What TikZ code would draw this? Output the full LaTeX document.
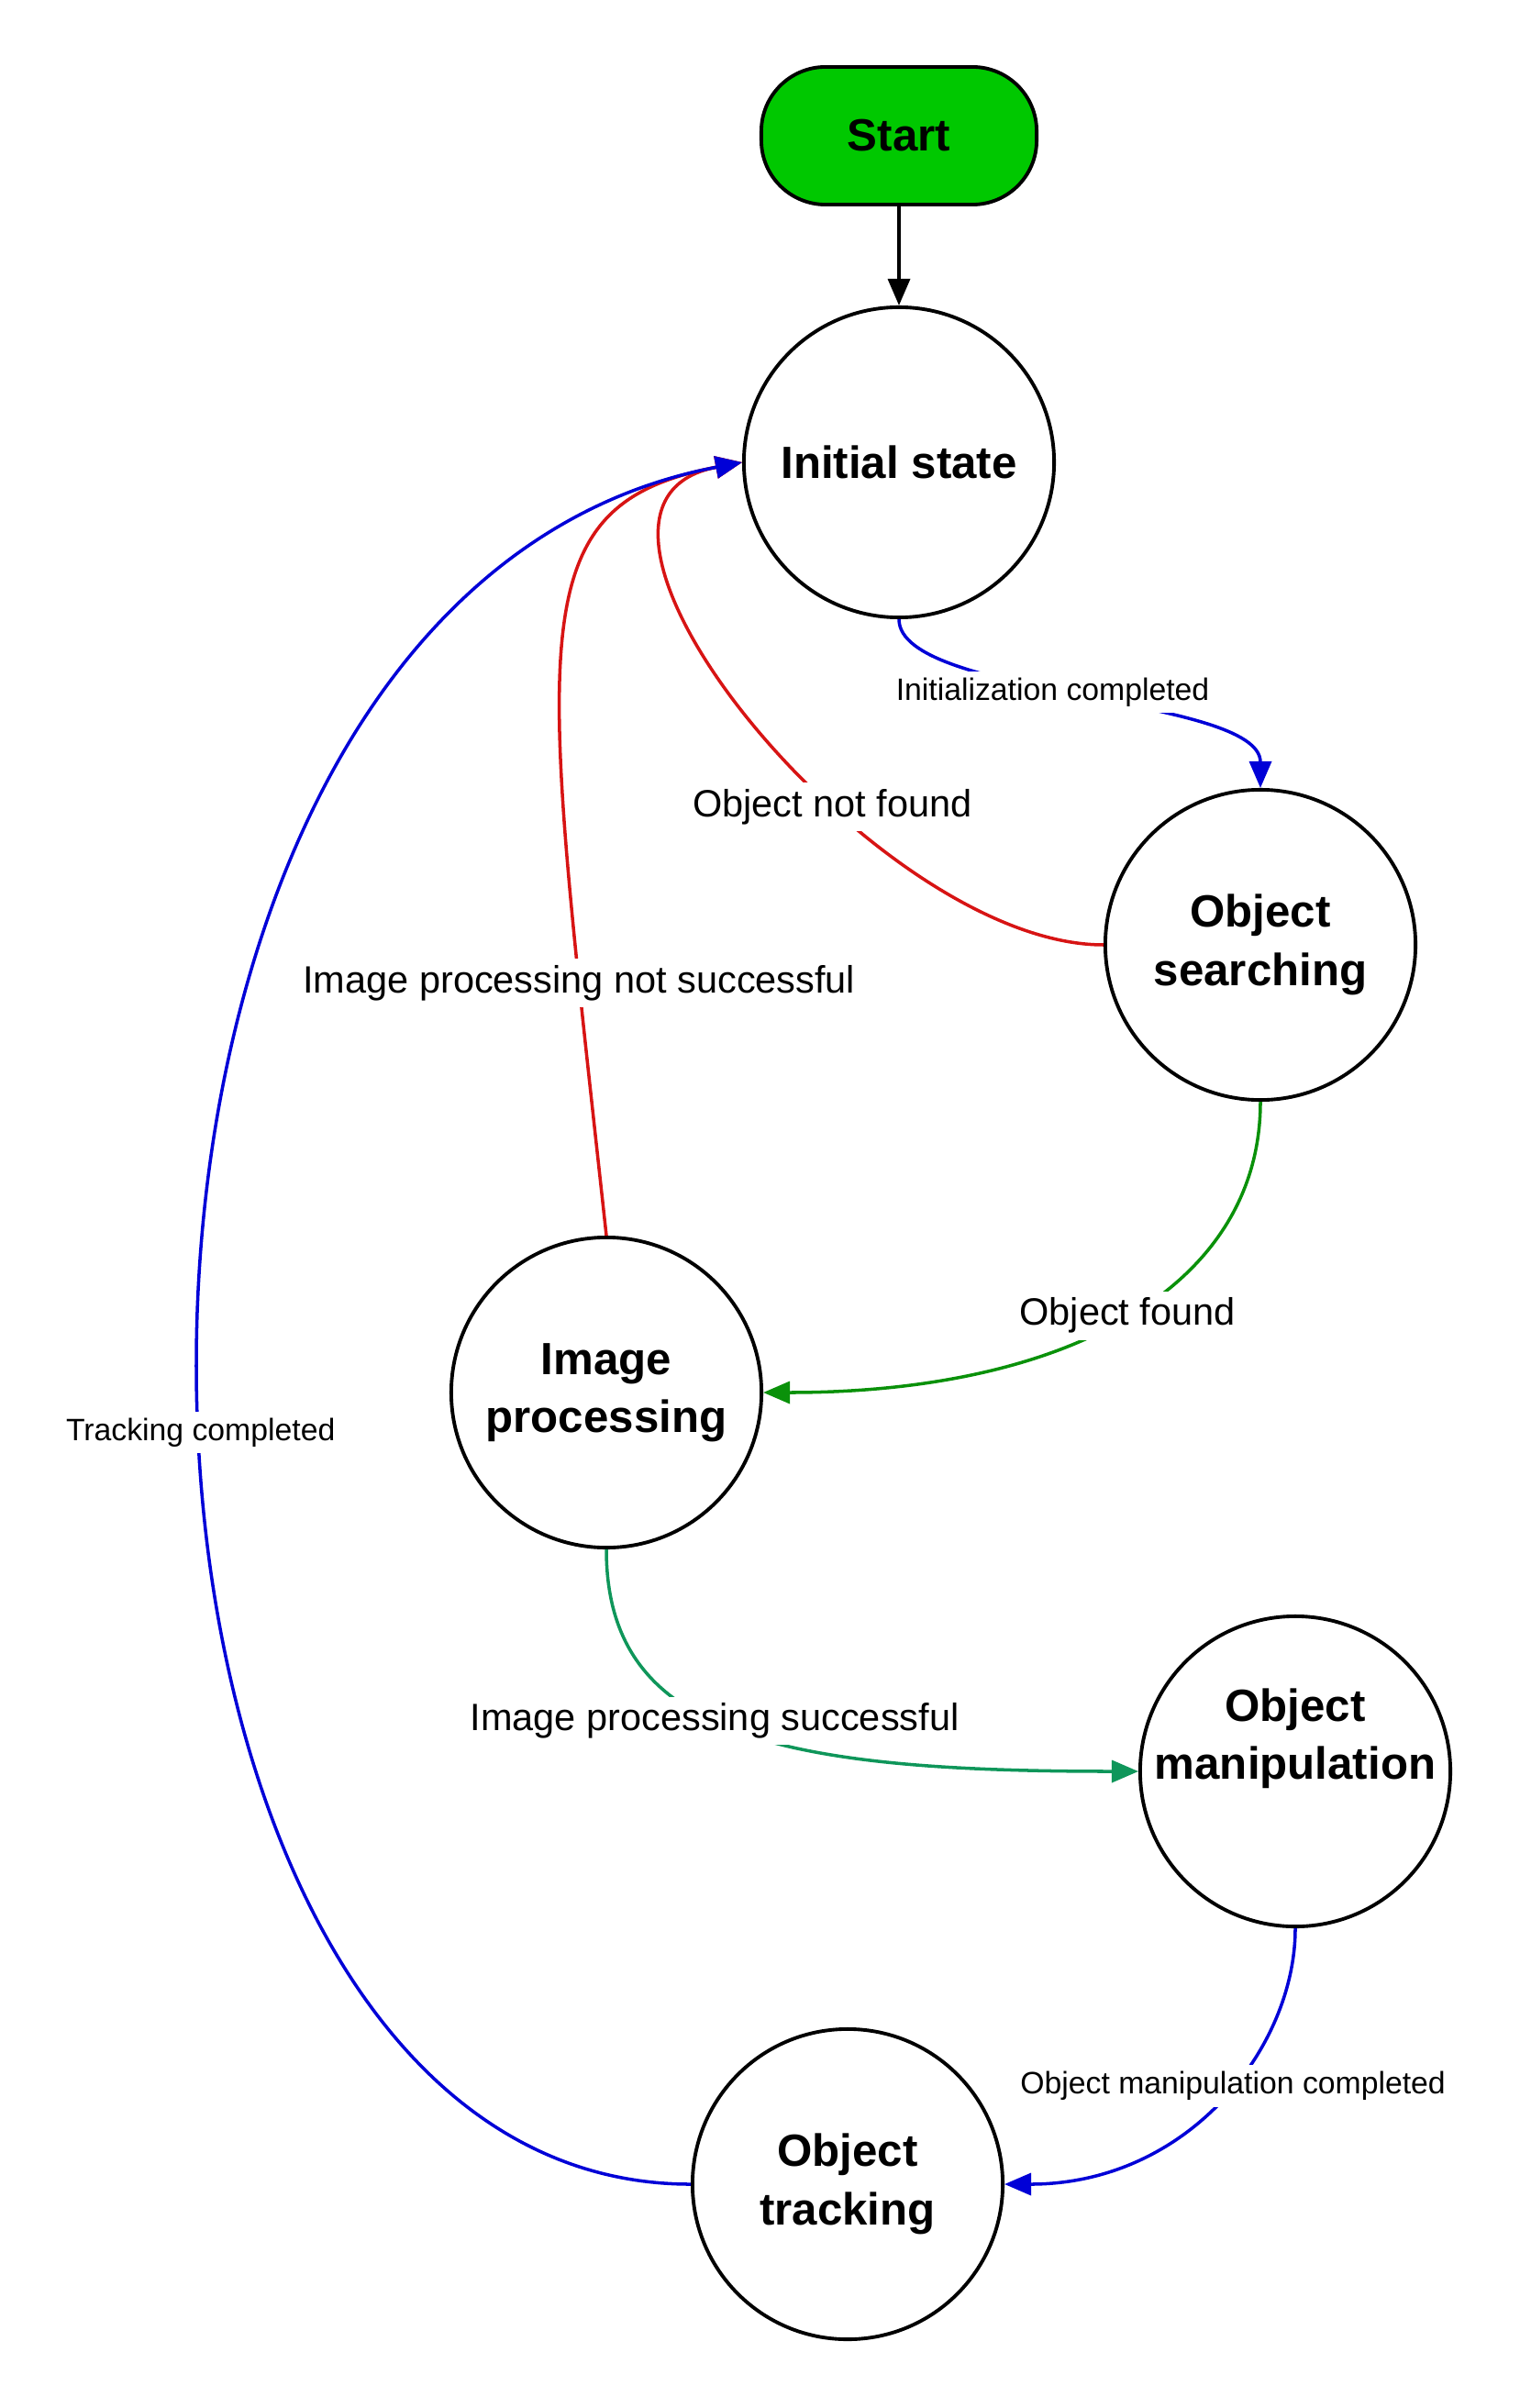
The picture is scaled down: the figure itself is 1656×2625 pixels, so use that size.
\documentclass[tikz,border=0pt]{standalone}
\usepackage{fontspec}
\setmainfont{Liberation Sans}
\usetikzlibrary{arrows.meta}
\definecolor{startgreen}{RGB}{0,200,0}
\definecolor{linkblue}{RGB}{0,0,215}
\definecolor{linkred}{RGB}{215,20,20}
\definecolor{linkgreen}{RGB}{10,145,10}
\definecolor{linkteal}{RGB}{15,150,90}
\tikzset{
  >={Triangle[length=2.9mm, width=2.4mm]},
  flow/.style={->, line width=1pt, draw=black},
  flowblue/.style={flow, draw=linkblue},
  flowred/.style={flow, draw=linkred},
  flowgreen/.style={flow, draw=linkgreen},
  flowteal/.style={flow, draw=linkteal},
  statecircle/.style={
    circle,
    draw=black,
    line width=1.1pt,
    fill=white,
    minimum size=3.38cm,
    inner sep=0pt,
    align=center,
    font=\fontsize{14}{18}\selectfont\bfseries
  },
  startbox/.style={statecircle, rectangle, rounded corners=0.7cm, fill=startgreen, minimum width=3cm, minimum height=1.5cm},
  edgelabel/.style={fill=white, inner sep=2pt, font=\fontsize{11.8}{14}\selectfont},
  smalllabel/.style={edgelabel, font=\fontsize{9.6}{12}\selectfont}
}

\begin{document}
\begin{tikzpicture}[x=0.01cm, y=0.01cm]
  \useasboundingbox (0,0) rectangle (1656,-2625);

  \node[startbox] (start) at (980,-148) {Start};
  \node[statecircle] (init) at (980,-504) {Initial state};
  \node[statecircle] (search) at (1374,-1030) {Object\\searching};
  \node[statecircle] (imgproc) at (661,-1518) {Image\\processing};
  \node[statecircle] (manip) at (1412,-1931)
    {\raisebox{0.23cm}[0pt][0pt]{\begin{tabular}{@{}c@{}}Object\\manipulation\end{tabular}}};
  \node[statecircle] (track) at (924,-2381) {Object\\tracking};

  \draw[flow] (start) -- (init);
  \draw[flowblue] (init.south) to[out=-90, in=90, out distance=0.86cm, in distance=1.01cm]
    node[pos=0.45, smalllabel] {Initialization completed} (search.north);
  \draw[flowgreen] (search.south) to[out=-90, in=0, out distance=1.99cm, in distance=3.36cm]
    node[pos=0.5, edgelabel] {Object found} (imgproc.east);
  \draw[flowteal] (imgproc.south) to[out=-90, in=180, out distance=2cm, in distance=4cm]
    node[pos=0.46, edgelabel] {Image processing successful} (manip.west);
  \draw[flowblue] (manip.south) to[out=-90, in=0, out distance=1.3cm, in distance=2cm]
    node[pos=0.45, smalllabel] {Object manipulation completed} (track.east);

  % way back to the initial state
  \draw[flowred] (imgproc.north) to[out=96.2, in=190.7, out distance=6.54cm, in distance=2.51cm]
    node[pos=0.16, edgelabel] {Image processing not successful} (init.west);
  \draw[flowred] (search.west) to[out=180, in=190.7, out distance=2.5cm, in distance=2.5cm]
    node[pos=0.37, edgelabel] {Object not found} (init.west);
  \draw[flowblue] (track.west) to[out=180, in=190.7, out distance=6.95cm, in distance=8.21cm]
    node[pos=0.477, smalllabel] {Tracking completed} (init.west);

\end{tikzpicture}
\end{document}
